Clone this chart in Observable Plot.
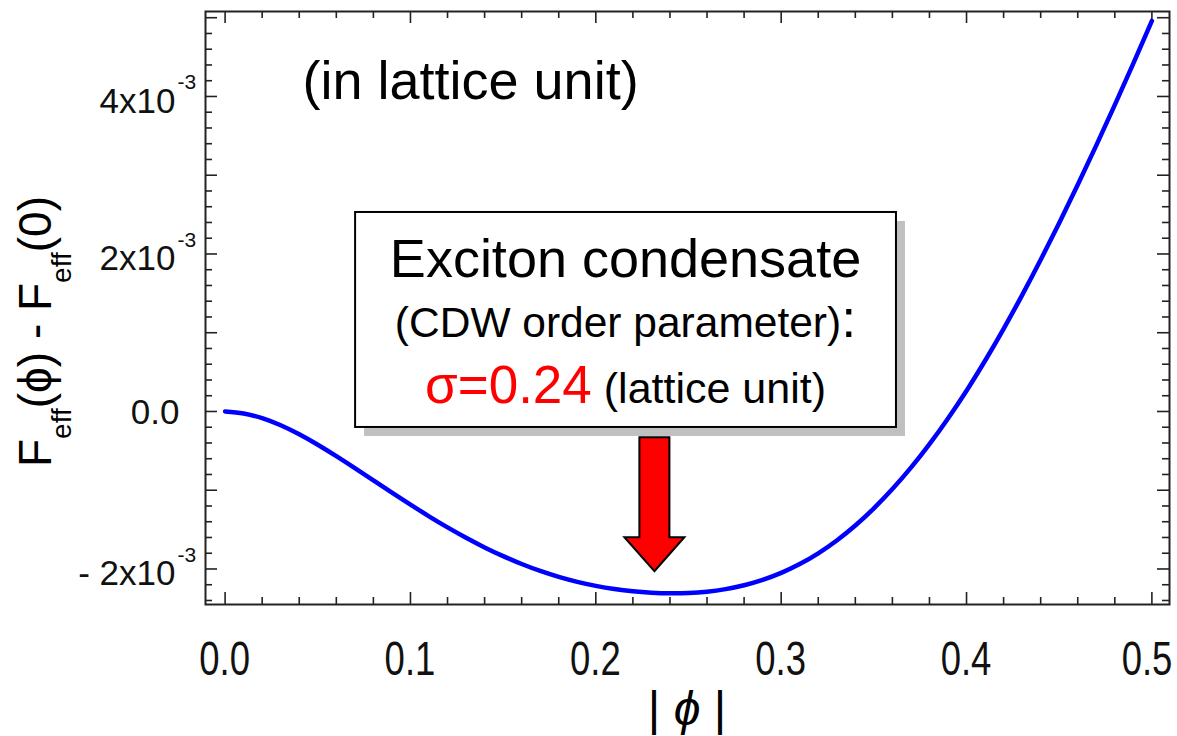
<!DOCTYPE html>
<html><head><meta charset="utf-8">
<script src="https://cdn.jsdelivr.net/npm/d3@7"></script>
<script src="https://cdn.jsdelivr.net/npm/@observablehq/plot@0.6"></script>
<style>
html,body{margin:0;padding:0;background:#fff;}
#chart{width:1177px;height:736px;overflow:hidden;}
</style></head><body><div id="chart"></div>
<script>
// ---- data (|phi| in lattice units, F values in units of 1e-3) ----
const phi = [0.00,0.01,0.02,0.03,0.04,0.05,0.06,0.07,0.08,0.09,
             0.10,0.11,0.12,0.13,0.14,0.15,0.16,0.17,0.18,0.19,
             0.20,0.21,0.22,0.23,0.24,0.25,0.26,0.27,0.28,0.29,
             0.30,0.31,0.32,0.33,0.34,0.35,0.36,0.37,0.38,0.39,
             0.40,0.41,0.42,0.43,0.44,0.45,0.46,0.47,0.48,0.49,0.50];
const freeEnergy = [0.000,-0.025,-0.085,-0.175,-0.290,-0.423,-0.568,-0.720,-0.875,-1.030,
             -1.182,-1.331,-1.472,-1.604,-1.726,-1.837,-1.937,-2.025,-2.100,-2.163,
             -2.214,-2.254,-2.283,-2.301,-2.309,-2.305,-2.288,-2.256,-2.207,-2.139,
             -2.050,-1.938,-1.801,-1.638,-1.448,-1.230,-0.985,-0.713,-0.414,-0.088,
             0.264,0.644,1.049,1.477,1.926,2.394,2.879,3.379,3.893,4.420,4.959];

const xMajorTicks = [0,0.1,0.2,0.3,0.4,0.5];
const xTickLabels = ["0.0","0.1","0.2","0.3","0.4","0.5"];
const xMinorTicks = [0.02,0.04,0.06,0.08,0.12,0.14,0.16,0.18,0.22,0.24,0.26,0.28,
                     0.32,0.34,0.36,0.38,0.42,0.44,0.46,0.48];
const yMajorTicks = [-2,-1,0,1,2,3,4,5];
const yMinorTicks = [-2.4,-2.2,-1.8,-1.6,-1.4,-1.2,-0.8,-0.6,-0.4,-0.2,
                     0.2,0.4,0.6,0.8,1.2,1.4,1.6,1.8,2.2,2.4,2.6,2.8,
                     3.2,3.4,3.6,3.8,4.2,4.4,4.6,4.8];
const yLabelTicks = [-2,2,4];
const yLabelBase = ["- 2x10","2x10","4x10"];
const yLabelExp = ["-3","-3","-3"];
const yZeroTick = [0];
const yZeroLabel = ["0.0"];

// annotation (box + arrow) anchored in data units
const box = {x1:0.0704, x2:0.3622, y1:-0.203, y2:2.527};
const boxLines = {line1:1.70, line2:0.94, line3:0.10};
const arrowTip = {x:0.2316, y:-2.028};
const sigmaText = "\u03c3=0.24";

// ---- layout ----
const W=1177, H=736, mL=205, mR=8, mT=11, mB=132;
const innerW = W-mL-mR, innerH = H-mT-mB;
const majorLen = 12, minorLen = 7;
const tickColor = "#222";
const xLabelSquash = 0.76, xLabelHalf = 26;
const curve = phi.map((p,i)=>({phi:p, F:freeEnergy[i]}));

const arrowSymbol = {
  draw(ctx){
    ctx.moveTo(0,0); ctx.lineTo(-30,-34); ctx.lineTo(-15,-34); ctx.lineTo(-15,-134);
    ctx.lineTo(15,-134); ctx.lineTo(15,-34); ctx.lineTo(30,-34); ctx.closePath();
  }
};

const plot = Plot.plot({
  width:W, height:H, marginLeft:mL, marginRight:mR, marginTop:mT, marginBottom:mB,
  style:{fontFamily:"'Liberation Sans', Arial, sans-serif", background:"#fff", color:"#000", overflow:"visible"},
  x:{domain:[-0.010574,0.5095], axis:null},
  y:{domain:[-2.451,5.079], axis:null},
  marks:[
    Plot.tickX(xMajorTicks,{x:d=>d, insetTop:innerH-majorLen, stroke:tickColor, strokeWidth:1.6}),
    Plot.tickX(xMinorTicks,{x:d=>d, insetTop:innerH-minorLen, stroke:tickColor, strokeWidth:1.6}),
    Plot.tickX(xMajorTicks,{x:d=>d, insetBottom:innerH-majorLen, stroke:tickColor, strokeWidth:1.6}),
    Plot.tickX(xMinorTicks,{x:d=>d, insetBottom:innerH-minorLen, stroke:tickColor, strokeWidth:1.6}),
    Plot.tickY(yMajorTicks,{y:d=>d, insetRight:innerW-majorLen, stroke:tickColor, strokeWidth:1.6}),
    Plot.tickY(yMinorTicks,{y:d=>d, insetRight:innerW-minorLen, stroke:tickColor, strokeWidth:1.6}),
    Plot.tickY(yMajorTicks,{y:d=>d, insetLeft:innerW-majorLen, stroke:tickColor, strokeWidth:1.6}),
    Plot.tickY(yMinorTicks,{y:d=>d, insetLeft:innerW-minorLen, stroke:tickColor, strokeWidth:1.6}),
    Plot.frame({stroke:tickColor, strokeWidth:2}),
    // y tick labels
    Plot.text(yLabelTicks,{y:d=>d, text:(d,i)=>yLabelBase[i], frameAnchor:"left", textAnchor:"end",
      dx:-30, dy:5, fontSize:35, fill:"#111"}),
    Plot.text(yLabelTicks,{y:d=>d, text:(d,i)=>yLabelExp[i], frameAnchor:"left", textAnchor:"start",
      dx:-28, dy:-14, fontSize:21, fill:"#111"}),
    Plot.text(yZeroTick,{y:d=>d, text:(d,i)=>yZeroLabel[i], frameAnchor:"left", textAnchor:"end",
      dx:-26, dy:1, fontSize:35, fill:"#111"}),
    // curve
    Plot.line(curve,{x:"phi", y:"F", stroke:"#0000ff", strokeWidth:4.5, curve:"natural"}),
    // annotation box
    Plot.rect([box],{x1:"x1", x2:"x2", y1:"y1", y2:"y2", fill:"#c0c0c0", dx:9, dy:9}),
    Plot.rect([box],{x1:"x1", x2:"x2", y1:"y1", y2:"y2", fill:"#fff", stroke:"#000", strokeWidth:2}),
    // arrow
    Plot.dot([arrowTip],{x:"x", y:"y", symbol:arrowSymbol, r:10, fill:"#ff0000", stroke:"#000", strokeWidth:2, strokeLinejoin:"miter"}),
    // "(in lattice unit)"
    Plot.text(["(in lattice unit)"],{text:d=>d, frameAnchor:"top-left", textAnchor:"start", lineAnchor:"bottom",
      dx:97, dy:87, fontSize:54, fill:"#000"})
  ]
});
document.getElementById("chart").appendChild(plot);

// text needing per-glyph styling, positioned with Plot's scales
const sx = plot.scale("x"), sy = plot.scale("y");
const svg = d3.select(plot);
const ff = "'Liberation Sans', Arial, sans-serif";
const cx = sx.apply((box.x1+box.x2)/2);

// x tick labels (condensed look), kept inside the picture
xMajorTicks.forEach((v,i)=>{
  const px = Math.min(sx.apply(v), W - 4 - xLabelHalf);
  svg.append("text").attr("transform",`translate(${px},${H-mB+71}) scale(${xLabelSquash},1)`)
    .attr("text-anchor","middle")
    .attr("font-family",ff).attr("font-size",48).attr("fill","#111").text(xTickLabels[i]);
});

svg.append("text").attr("x",cx).attr("y",sy.apply(boxLines.line1)).attr("text-anchor","middle")
  .attr("font-family",ff).attr("font-size",54).attr("fill","#000").text("Exciton condensate");

const t2 = svg.append("text").attr("x",cx).attr("y",sy.apply(boxLines.line2)).attr("text-anchor","middle")
  .attr("font-family",ff).attr("font-size",42.5).attr("fill","#000");
t2.append("tspan").text("(CDW order parameter)");
t2.append("tspan").attr("font-size",54).text(":");

const t3 = svg.append("text").attr("x",cx).attr("y",sy.apply(boxLines.line3)).attr("text-anchor","middle")
  .attr("font-family",ff).attr("fill","#000");
t3.append("tspan").attr("font-size",53).attr("fill","#ff0000").text(sigmaText);
t3.append("tspan").attr("font-size",43).text("\u00a0(lattice unit)");

// y-axis label
const yl = svg.append("text").attr("transform",`translate(51,${(mT+H-mB)/2+24}) rotate(-90)`)
  .attr("text-anchor","middle").attr("font-family",ff).attr("font-size",46).attr("fill","#000");
yl.append("tspan").text("F");
yl.append("tspan").attr("font-size",28).attr("dy",20).text("eff");
yl.append("tspan").attr("dy",-20).text("(\u03d5)\u00a0-\u00a0F");
yl.append("tspan").attr("font-size",28).attr("dy",20).text("eff");
yl.append("tspan").attr("dy",-20).text("(0)");

// x-axis label
const xl = svg.append("text").attr("x",(mL+W-mR)/2).attr("y",725).attr("text-anchor","middle")
  .attr("font-family",ff).attr("font-size",48).attr("fill","#000");
xl.append("tspan").text("|\u00a0");
xl.append("tspan").attr("font-style","italic").text("\u03d5");
xl.append("tspan").text("\u00a0|");
</script></body></html>
